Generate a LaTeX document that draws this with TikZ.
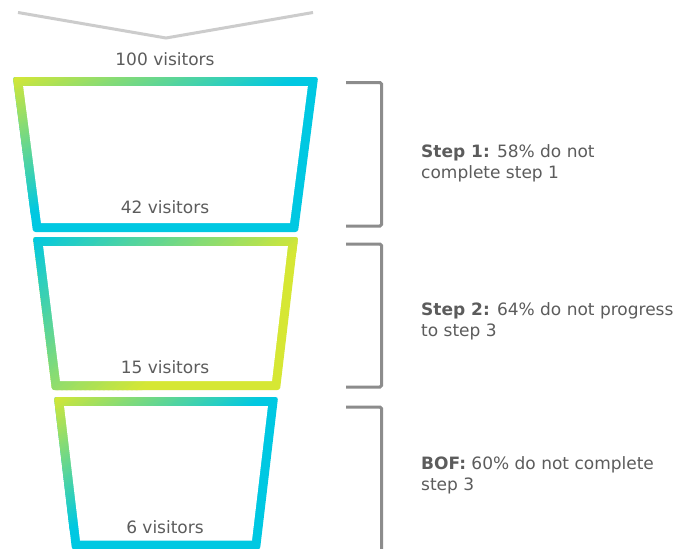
\documentclass[tikz,border=0pt]{standalone}
\usepackage{fontspec}
\setmainfont{DejaVu Sans}
\definecolor{fy}{RGB}{214,231,52}
\definecolor{fc}{RGB}{0,200,226}
\definecolor{txt}{RGB}{92,92,92}
\definecolor{brk}{RGB}{140,140,140}
\definecolor{chev}{RGB}{204,204,204}
% gradient parameters: start colour, end colour, weight of u, weight of v, end position
\newcommand\RingGrad[5]{\def\GStart{#1}\def\GEnd{#2}\def\GA{#3}\def\GB{#4}\def\GE{#5}}
\newcommand\FunnelRing[6]{%
  \pgfmathsetmacro\FRk{(#4-#1)/(#6-#3)}%
  \pgfmathsetmacro\FRs{4.5*sqrt(1+\FRk*\FRk)}%
  \pgfmathsetmacro\FRd{4.5*\FRk}%
  \pgfmathsetmacro\FXa{#1-\FRd-\FRs}%
  \pgfmathsetmacro\FXb{#2+\FRd+\FRs}%
  \pgfmathsetmacro\FYa{#3-4.5}%
  \pgfmathsetmacro\FYb{#6+4.5}%
  \pgfmathsetmacro\FW{\FXb-\FXa}%
  \pgfmathsetmacro\FH{\FYb-\FYa}%
  \begin{scope}
    \clip[rounded corners=2.5pt]
      (\FXa,\FYa) -- (\FXb,\FYa) --
      ({#5-\FRd+\FRs},\FYb) -- ({#4+\FRd-\FRs},\FYb) -- cycle;
    \fill[\GEnd] (\FXa-5,\FYa-5) rectangle (\FXb+5,\FYb+5);
    \foreach \i in {0,...,59}{
      \pgfmathsetmacro\ca{ifthenelse(\i==0,-2,\i/60*\GE)}
      \pgfmathsetmacro\cb{(\i+1)/60*\GE+0.004}
      \pgfmathtruncatemacro\pc{round((\i+0.5)/60*100)}
      \pgfmathsetmacro\uat{(\ca*(\GA+\GB)+0.1*\GB)/\GA}
      \pgfmathsetmacro\ubt{(\cb*(\GA+\GB)+0.1*\GB)/\GA}
      \pgfmathsetmacro\uab{(\ca*(\GA+\GB)-1.1*\GB)/\GA}
      \pgfmathsetmacro\ubb{(\cb*(\GA+\GB)-1.1*\GB)/\GA}
      \fill[\GEnd!\pc!\GStart]
        ({\FXa+\uat*\FW},{\FYa-0.1*\FH}) -- ({\FXa+\ubt*\FW},{\FYa-0.1*\FH}) --
        ({\FXa+\ubb*\FW},{\FYa+1.1*\FH}) -- ({\FXa+\uab*\FW},{\FYa+1.1*\FH}) -- cycle;
    }
  \end{scope}
  \fill[white]
    ({#1+\FRd+\FRs},{#3+4.5}) -- ({#2-\FRd-\FRs},{#3+4.5}) --
    ({#5+\FRd-\FRs},{#6-4.5}) -- ({#4-\FRd+\FRs},{#6-4.5}) -- cycle;
}
\tikzset{
  lbl/.style={font=\fontsize{17}{21}\selectfont, text=txt, inner sep=0pt},
  side/.style={lbl, align=left, anchor=base west},
  bracketline/.style={draw=brk, line width=3pt, rounded corners=1.5pt},
  chevline/.style={draw=chev, line width=3pt}
}
\begin{document}
\begin{tikzpicture}[x=1pt,y=-1pt]
\useasboundingbox (0,0) rectangle (678,549);
\clip (0,0) rectangle (678,549);
\fill[white] (0,0) rectangle (678,549);
% top chevron
\coordinate (cl) at (18,12.5);
\coordinate (cv) at (166,38);
\coordinate (cr) at (313,12.5);
\draw[chevline] (cl) -- (cv) -- (cr);
% funnel rings
\RingGrad{fy}{fc}{1}{1}{0.47}
\FunnelRing{18}{313}{81.5}{37}{294}{227.5}
\RingGrad{fc}{fy}{1}{0.65}{0.64}
\FunnelRing{38}{293}{241.5}{56}{276}{385.5}
\RingGrad{fy}{fc}{1}{1}{0.47}
\FunnelRing{59}{273}{401.5}{76}{256}{545}
% counts
\node[lbl, anchor=base] (n100) at (165,65) {100 visitors};
\node[lbl, anchor=base] (n42) at (165,213) {42 visitors};
\node[lbl, anchor=base] (n15) at (165,373) {15 visitors};
\node[lbl, anchor=base] (n6) at (165,533) {6 visitors};
% brackets
\coordinate (b1a) at (346,82.5);
\coordinate (b1b) at (381.5,82.5);
\coordinate (b1c) at (381.5,226);
\coordinate (b1d) at (346,226);
\draw[bracketline] (b1a) -- (b1b) -- (b1c) -- (b1d);
\coordinate (b2a) at (346,244);
\coordinate (b2b) at (381.5,244);
\coordinate (b2c) at (381.5,387);
\coordinate (b2d) at (346,387);
\draw[bracketline] (b2a) -- (b2b) -- (b2c) -- (b2d);
\coordinate (b3a) at (346,407);
\coordinate (b3b) at (381.5,407);
\coordinate (b3c) at (381.5,560);
\draw[bracketline] (b3a) -- (b3b) -- (b3c);
% side texts
\node[side] (s1) at (421,178.5) {\textbf{Step 1:} 58\% do not\\complete step 1};
\node[side] (s2) at (421,336.5) {\textbf{Step 2:} 64\% do not progress\\to step 3};
\node[side] (s3) at (421,490) {\textbf{BOF:} 60\% do not complete\\step 3};
\end{tikzpicture}
\end{document}
